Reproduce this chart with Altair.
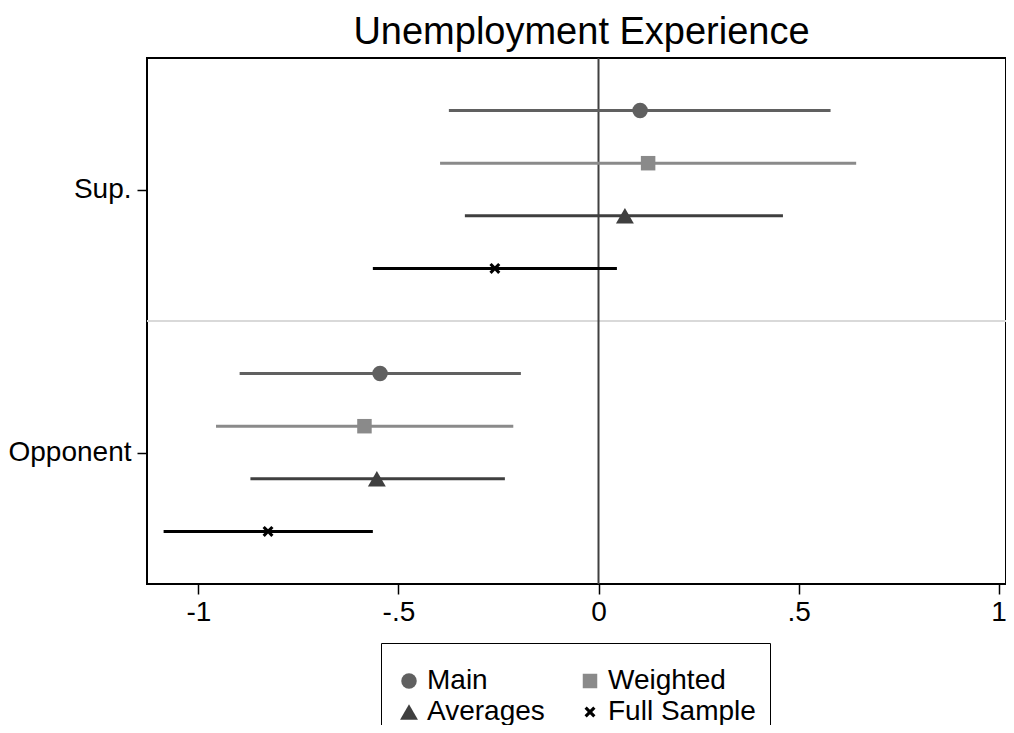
import altair as alt
import pandas as pd

# ---- data ----
groups = ["Sup.", "Opponent"]
models = ["Main", "Weighted", "Averages", "Full Sample"]

est_sup = [0.104, 0.124, 0.066, -0.259]
lo_sup = [-0.374, -0.396, -0.334, -0.564]
hi_sup = [0.580, 0.644, 0.461, 0.046]

est_opp = [-0.546, -0.585, -0.554, -0.826]
lo_opp = [-0.897, -0.956, -0.870, -1.087]
hi_opp = [-0.194, -0.213, -0.234, -0.564]

x_ticks = [-1, -0.5, 0, 0.5, 1]
x_labels = ["-1", "-.5", "0", ".5", "1"]

colors = ["#606060", "#8a8a8a", "#3f3f3f", "#000000"]
X_PATH = "M-1,-0.6L-0.6,-1L0,-0.4L0.6,-1L1,-0.6L0.4,0L1,0.6L0.6,1L0,0.4L-0.6,1L-1,0.6L-0.4,0Z"
shapes = ["circle", "square", "triangle-up", X_PATH]
sizes = [240, 210, 320, 120]

FONT = "Liberation Sans"

rows = []
for gi, (g, est, lo, hi) in enumerate([(groups[0], est_sup, lo_sup, hi_sup),
                                        (groups[1], est_opp, lo_opp, hi_opp)]):
    for mi, m in enumerate(models):
        rows.append({"group": g, "model": m, "row": gi * 5 + mi + 1,
                     "est": est[mi], "lo": lo[mi], "hi": hi[mi]})
df = pd.DataFrame(rows)

group_pos = [2.5, 7.5]

# legend lays entries out column by column: order so that rows read Main|Weighted, Averages|Full Sample
legend_order = [models[0], models[2], models[1], models[3]]
idx = [models.index(m) for m in legend_order]

xscale = alt.Scale(domain=[-1.1285, 1.0185], nice=False, zero=False)
yscale = alt.Scale(domain=[0, 10], reverse=True, nice=False, zero=False)
cscale = alt.Scale(domain=legend_order, range=[colors[i] for i in idx])
shscale = alt.Scale(domain=legend_order, range=[shapes[i] for i in idx])
szscale = alt.Scale(type="ordinal", domain=legend_order, range=[sizes[i] for i in idx])

label_expr_x = " : ".join(
    [f"datum.value == {v} ? '{l}'" for v, l in zip(x_ticks, x_labels)]) + " : ''"
label_expr_y = " : ".join(
    [f"datum.value == {v} ? '{l}'" for v, l in zip(group_pos, groups)]) + " : ''"

base = alt.Chart(df)

xaxis = alt.Axis(values=x_ticks, labelExpr=label_expr_x, title=None, grid=False,
                 domain=False, tickSize=10, tickColor="black", tickWidth=1.5,
                 labelFontSize=28, labelFont=FONT, labelColor="black", labelPadding=4)
yaxis = alt.Axis(values=group_pos, labelExpr=label_expr_y, title=None, grid=False,
                 domain=False, tickSize=10, tickColor="black", tickWidth=1.5,
                 labelFontSize=28, labelFont=FONT, labelColor="black", labelPadding=6)

legend = alt.Legend(title=" ", titleFontSize=8, titlePadding=2,
                    orient="none", legendX=234, legendY=585, columns=2,
                    strokeColor="black", padding=14, labelFontSize=28, labelFont=FONT,
                    labelColor="black", columnPadding=31, rowPadding=3, labelOffset=4,
                    symbolStrokeWidth=0, fillColor="white")

divider = alt.Chart(pd.DataFrame({"y": [5]})).mark_rule(
    color="#d9d9d9", strokeWidth=2).encode(
    y=alt.Y("y:Q", scale=yscale, axis=yaxis))

zero = alt.Chart(pd.DataFrame({"x": [0]})).mark_rule(
    color="#404040", strokeWidth=2).encode(
    x=alt.X("x:Q", scale=xscale, axis=xaxis))

bars = base.mark_rule(strokeWidth=3).encode(
    x=alt.X("lo:Q", scale=xscale, axis=xaxis),
    x2="hi:Q",
    y=alt.Y("row:Q", scale=yscale, axis=yaxis),
    color=alt.Color("model:N", scale=cscale, legend=legend),
)

points = base.mark_point(filled=True, opacity=1).encode(
    x=alt.X("est:Q", scale=xscale, axis=xaxis),
    y=alt.Y("row:Q", scale=yscale, axis=yaxis),
    color=alt.Color("model:N", scale=cscale, legend=legend),
    shape=alt.Shape("model:N", scale=shscale, legend=legend),
    size=alt.Size("model:N", scale=szscale, legend=legend),
)

chart = alt.layer(divider, zero, bars, points).properties(
    width=859, height=526,
    title=alt.TitleParams("Unemployment Experience", fontSize=38, font=FONT,
                          fontWeight="normal", color="black", anchor="middle",
                          offset=5, dx=5),
    autosize=alt.AutoSizeParams(type="none"),
    padding={"left": 139, "top": 50, "right": 0, "bottom": 141},
).configure(background="white").configure_view(stroke="black", strokeWidth=2)

chart.save("out.html", embed_options={"renderer": "svg", "actions": False})
